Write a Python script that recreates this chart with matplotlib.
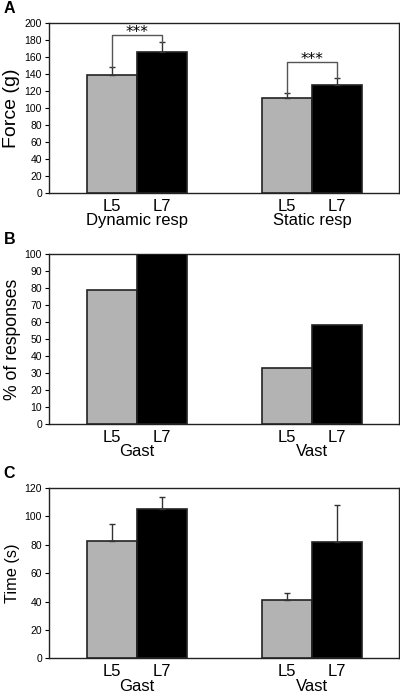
import numpy as np
import matplotlib
matplotlib.use('Agg')
import matplotlib.pyplot as plt
import matplotlib.transforms as mtransforms

plt.rcParams['font.family'] = ['Liberation Sans', 'DejaVu Sans']

bar_labels = ['L5', 'L7']

# panel A
groups_a = ['Dynamic resp', 'Static resp']
force_l5 = [139, 112]
force_l7 = [165, 127]
force_l5_err = [9, 6]
force_l7_err = [12, 8]

# panel B
groups_b = ['Gast', 'Vast']
resp_l5 = [79, 33]
resp_l7 = [100, 58]

# panel C
groups_c = ['Gast', 'Vast']
time_l5 = [83, 41]
time_l7 = [105, 82]
time_l5_err = [12, 5]
time_l7_err = [9, 26]

gpos = np.array([0.0, 3.5])
w = 1.0
gray = '#b3b3b3'
edge = '#222222'


def panel(ax, groups, v5, v7, e5, e7, ymax, step, ylabel, ylsize, letter):
    x5 = gpos - w / 2
    x7 = gpos + w / 2
    ekw = dict(ecolor='#333333', elinewidth=1.0, capsize=2.5, capthick=1.0)
    if e5 is not None:
        ax.bar(x5, v5, w, color=gray, edgecolor=edge, linewidth=1.2,
               yerr=[np.zeros(2), e5], error_kw=ekw, zorder=3)
        ax.bar(x7, v7, w, color='black', edgecolor=edge, linewidth=1.2,
               yerr=[np.zeros(2), e7], error_kw=ekw, zorder=3)
    else:
        ax.bar(x5, v5, w, color=gray, edgecolor=edge, linewidth=1.2, zorder=3)
        ax.bar(x7, v7, w, color='black', edgecolor=edge, linewidth=1.2, zorder=3)
    ax.set_xlim(-1.76, 5.24)
    ax.set_ylim(0, ymax)
    ax.set_yticks(np.arange(0, ymax + 1, step))
    ax.tick_params(axis='y', labelsize=7.5, length=3, width=0.8, pad=2)
    ax.set_xticks(np.concatenate([x5, x7]))
    ax.set_xticklabels(bar_labels[:1] * 2 + bar_labels[1:] * 2, fontsize=12)
    ax.tick_params(axis='x', length=0, pad=4)
    for s in ax.spines.values():
        s.set_color('#222222')
        s.set_linewidth(1.0)
    ax.set_ylabel(ylabel, fontsize=ylsize, labelpad=3)
    tr = mtransforms.blended_transform_factory(ax.transData, ax.transAxes)
    for g, name in zip(gpos, groups):
        ax.text(g, -0.163, name, transform=tr, ha='center', va='center',
                fontsize=12)
    ax.text(-0.13, 1.085, letter, transform=ax.transAxes, fontsize=11.5,
            fontweight='bold', ha='left', va='center')


fig = plt.figure(figsize=(4.0, 6.94), dpi=100)
axA = fig.add_axes([0.1225, 0.7219, 0.875, 0.2454])
axB = fig.add_axes([0.1225, 0.389, 0.875, 0.245])
axC = fig.add_axes([0.1225, 0.0514, 0.875, 0.2454])

panel(axA, groups_a, force_l5, force_l7, force_l5_err, force_l7_err,
      200, 20, 'Force (g)', 14, 'A')
panel(axB, groups_b, resp_l5, resp_l7, None, None,
      100, 10, '% of responses', 12.7, 'B')
panel(axC, groups_c, time_l5, time_l7, time_l5_err, time_l7_err,
      120, 20, 'Time (s)', 11.8, 'C')

# significance brackets in panel A
bracket_top = [186, 154]
for i, g in enumerate(gpos):
    y5 = force_l5[i] + force_l5_err[i]
    y7 = force_l7[i] + force_l7_err[i]
    top = bracket_top[i]
    axA.plot([g - w / 2, g - w / 2, g + w / 2, g + w / 2], [y5, top, top, y7],
             color='#555555', lw=1.0, zorder=4)
    axA.text(g, top - 6, '***', ha='center', va='bottom', fontsize=11,
             family='DejaVu Sans')

fig.savefig('out.png', dpi=100)
